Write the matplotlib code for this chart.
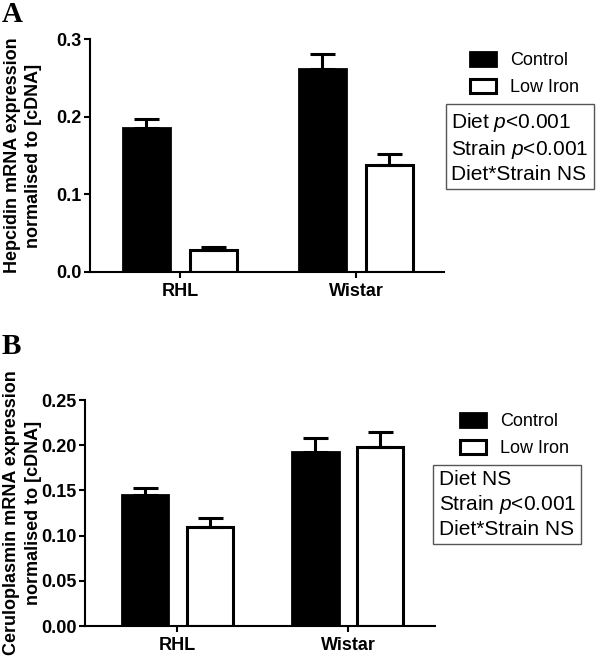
import matplotlib
matplotlib.use("Agg")
import matplotlib.pyplot as plt
import numpy as np

plt.rcParams['font.family'] = ['Liberation Sans', 'DejaVu Sans']
plt.rcParams['mathtext.fontset'] = 'custom'
plt.rcParams['mathtext.rm'] = 'Liberation Sans'
plt.rcParams['mathtext.it'] = 'Liberation Sans:italic'

strains = ['RHL', 'Wistar']
series = ['Control', 'Low Iron']

# panel A: hepcidin
hep_control = [0.185, 0.261]
hep_control_sem = [0.012, 0.020]
hep_low = [0.028, 0.138]
hep_low_sem = [0.004, 0.014]
hep_stats = ['Diet $p$<0.001', 'Strain $p$<0.001', 'Diet*Strain NS']

# panel B: ceruloplasmin
cp_control = [0.145, 0.192]
cp_control_sem = [0.008, 0.016]
cp_low = [0.110, 0.198]
cp_low_sem = [0.009, 0.017]
cp_stats = ['Diet NS', 'Strain $p$<0.001', 'Diet*Strain NS']

fig = plt.figure(figsize=(6, 6.59), dpi=100)


def panel(rect, ctrl, ctrl_e, low, low_e, ylim, yticks, ylabel, xlim, off, w,
          leg_xy, box_xy, stats, letter, letter_y, ylab_x):
    ax = fig.add_axes(rect)
    x = np.arange(len(strains))
    ax.bar(x - off, ctrl, w, color='black', edgecolor='black', linewidth=2, label=series[0])
    ax.bar(x + off, low, w, color='white', edgecolor='black', linewidth=2.2, label=series[1])
    z = np.zeros(len(strains))
    ax.errorbar(x - off, ctrl, yerr=[z, ctrl_e], fmt='none', ecolor='black',
                elinewidth=2.2, capsize=9, capthick=2.2)
    ax.errorbar(x + off, low, yerr=[z, low_e], fmt='none', ecolor='black',
                elinewidth=2.2, capsize=9, capthick=2.2)
    ax.set_xlim(*xlim)
    ax.set_ylim(*ylim)
    ax.set_yticks(yticks)
    ax.set_xticks(x)
    ax.set_xticklabels(strains, fontweight='bold', fontsize=13)
    for lab in ax.get_yticklabels():
        lab.set_fontweight('bold')
        lab.set_fontsize(13)
    ax.spines['top'].set_visible(False)
    ax.spines['right'].set_visible(False)
    ax.spines['left'].set_linewidth(1.5)
    ax.spines['bottom'].set_linewidth(1.5)
    ax.tick_params(width=1.5, length=4, pad=2)
    ax.tick_params(axis='x', pad=4)
    ax.set_ylabel(ylabel, fontweight='bold', fontsize=13, linespacing=1.35)
    ax.yaxis.set_label_coords(ylab_x, 0.5)
    ax.legend(loc='upper left', bbox_to_anchor=leg_xy, bbox_transform=fig.transFigure,
              frameon=False, fontsize=13, handlelength=1.4, handleheight=0.8,
              handletextpad=0.8, labelspacing=0.55, borderaxespad=0)
    fig.text(box_xy[0], box_xy[1], '\n'.join(stats), fontsize=15, va='top', ha='left',
             linespacing=1.25,
             bbox=dict(boxstyle='square,pad=0.25', facecolor='white',
                       edgecolor='#555555', linewidth=1))
    fig.text(0.003, letter_y, letter, family='Liberation Serif', fontweight='bold',
             fontsize=21, va='top')
    return ax


axA = panel([0.15, 0.5873, 0.59, 0.3535], hep_control, hep_control_sem, hep_low, hep_low_sem,
            (0, 0.3), [0.0, 0.1, 0.2, 0.3], 'Hepcidin mRNA expression\nnormalised to [cDNA]',
            (-0.51, 1.5), 0.19, 0.267, (0.772, 0.932), (0.752, 0.832), hep_stats, 'A', 0.998,
            -0.135)

axB = panel([0.1417, 0.05, 0.5833, 0.343], cp_control, cp_control_sem, cp_low, cp_low_sem,
            (0, 0.25), [0.0, 0.05, 0.10, 0.15, 0.20, 0.25],
            'Ceruloplasmin mRNA expression\nnormalised to [cDNA]',
            (-0.54, 1.51), 0.19, 0.27, (0.755, 0.384), (0.731, 0.287), cp_stats, 'B', 0.495,
            -0.123)

axA.yaxis.set_major_formatter(matplotlib.ticker.FormatStrFormatter('%.1f'))
axB.yaxis.set_major_formatter(matplotlib.ticker.FormatStrFormatter('%.2f'))

fig.savefig('out.png', dpi=100)
